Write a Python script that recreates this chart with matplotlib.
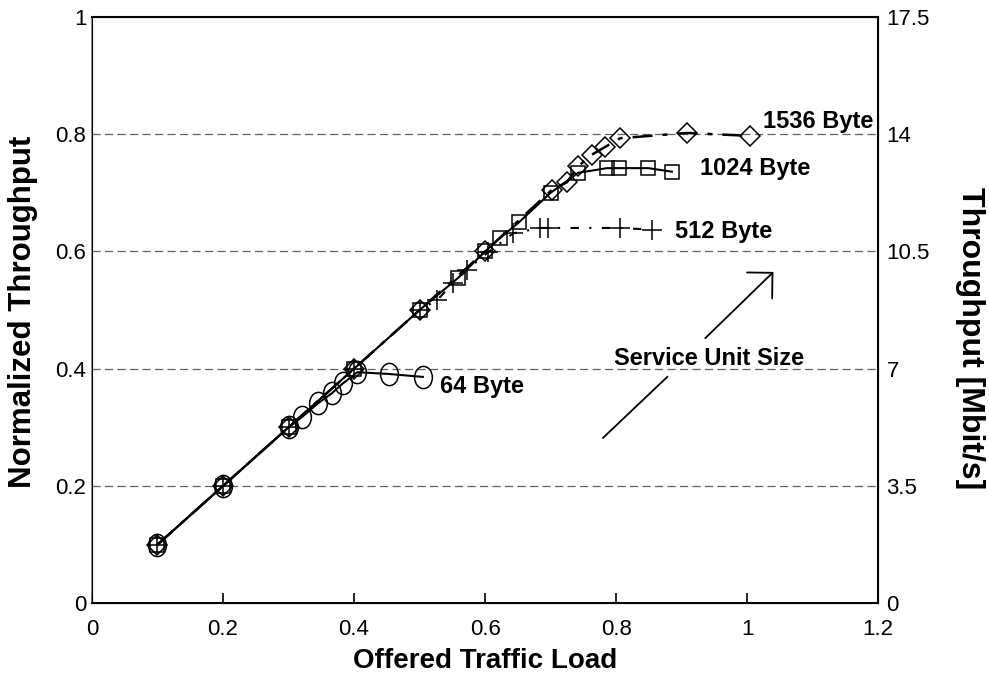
import matplotlib.pyplot as plt
from matplotlib.path import Path

plt.rcParams['font.family'] = ['Liberation Sans', 'DejaVu Sans']

# Messdaten (normierter Durchsatz)
x_64 = [0.1, 0.2, 0.3, 0.32, 0.345, 0.366, 0.383, 0.405, 0.453, 0.505]
y_64 = [0.1, 0.2, 0.3, 0.317, 0.341, 0.358, 0.375, 0.394, 0.391, 0.386]

x_512 = [0.1, 0.2, 0.3, 0.4, 0.5, 0.527, 0.551, 0.572, 0.605, 0.643, 0.684, 0.696, 0.806, 0.855]
y_512 = [0.1, 0.2, 0.3, 0.4, 0.5, 0.517, 0.546, 0.568, 0.599, 0.631, 0.64, 0.64, 0.64, 0.637]

x_1024 = [0.1, 0.2, 0.3, 0.4, 0.5, 0.559, 0.6, 0.623, 0.652, 0.7, 0.742, 0.786, 0.805, 0.849, 0.885]
y_1024 = [0.1, 0.2, 0.3, 0.4, 0.5, 0.555, 0.6, 0.623, 0.65, 0.7, 0.734, 0.742, 0.742, 0.742, 0.736]

x_1536 = [0.1, 0.2, 0.3, 0.4, 0.5, 0.6, 0.702, 0.725, 0.742, 0.763, 0.783, 0.806, 0.908, 1.005]
y_1536 = [0.1, 0.2, 0.3, 0.4, 0.5, 0.6, 0.705, 0.718, 0.745, 0.765, 0.778, 0.793, 0.802, 0.797]

x_ticks = [0, 0.2, 0.4, 0.6, 0.8, 1, 1.2]
x_ticklabels = ['0', '0.2', '0.4', '0.6', '0.8', '1', '1.2']
y_ticks = [0, 0.2, 0.4, 0.6, 0.8, 1]
y_ticklabels = ['0', '0.2', '0.4', '0.6', '0.8', '1']
y2_ticks = [0, 3.5, 7, 10.5, 14, 17.5]
y2_ticklabels = ['0', '3.5', '7', '10.5', '14', '17.5']

fig = plt.figure(figsize=(9.89, 6.74), dpi=100)
ax = fig.add_axes([0.093, 0.105, 0.795, 0.87])

# Gitterlinien
for yv in y_ticks[1:-1]:
    ax.axhline(yv, color='#606060', linestyle=(0, (6.5, 3.5)), linewidth=0.9, zorder=1)

# etwas hoeherer Kreis (Ellipse) wie im Original
circ = Path.unit_circle()
ellipse = Path(circ.vertices * [0.8, 1.0], circ.codes)

mk = dict(markerfacecolor='none', markeredgecolor='black', markeredgewidth=1.1, color='black')
ax.plot(x_1536, y_1536, linestyle=(0, (8, 4, 2, 4)), linewidth=1.8, marker='D', markersize=10.5, **mk)
ax.plot(x_1024, y_1024, linestyle='-', linewidth=1.5, marker='s', markersize=10, **mk)
ax.plot(x_512, y_512, linestyle=(0, (4, 5, 1, 5)), linewidth=1.5, marker='+', markersize=14, **mk)
ax.plot(x_64, y_64, linestyle='-', linewidth=1.5, marker=ellipse, markersize=16, **mk)

# Beschriftungen der Kurven
lab = dict(fontsize=17, fontweight='bold', va='baseline', ha='left')
ax.text(0.531, 0.358, '64 Byte', **lab)
ax.text(0.89, 0.623, '512 Byte', **lab)
ax.text(0.928, 0.730, '1024 Byte', **lab)
ax.text(1.024, 0.811, '1536 Byte', **lab)
ax.text(0.942, 0.406, 'Service Unit Size', fontsize=17, fontweight='bold', ha='center', va='baseline')

# Pfeil
ax.plot([0.780, 0.878], [0.282, 0.386], color='black', linewidth=1.3)
ax.annotate('', xy=(1.040, 0.565), xytext=(0.936, 0.452),
            arrowprops=dict(arrowstyle='->,head_length=1.3,head_width=1.3', mutation_scale=10,
                            color='black', linewidth=1.3, shrinkA=0, shrinkB=0))

ax.set_xlim(0, 1.2)
ax.set_ylim(0, 1)
ax.set_xticks(x_ticks)
ax.set_xticklabels(x_ticklabels, fontsize=16)
ax.set_yticks(y_ticks)
ax.set_yticklabels(y_ticklabels, fontsize=16)
ax.tick_params(axis='x', direction='in', length=7, width=1.2, pad=11)
ax.tick_params(axis='y', direction='in', length=0, pad=4)
ax.spines['left'].set_color('#808080')
ax.spines['left'].set_linewidth(1.2)
for s in ['top', 'bottom', 'right']:
    ax.spines[s].set_linewidth(1.5)

ax.set_xlabel('Offered Traffic Load', fontsize=20, fontweight='bold', labelpad=6)
ax.text(-0.0878, 0.497, 'Normalized Throughput', transform=ax.transAxes, rotation=90,
        fontsize=22.5, fontweight='bold', ha='center', va='center')

ax2 = ax.twinx()
ax2.set_ylim(0, 17.5)
ax2.set_yticks(y2_ticks)
ax2.set_yticklabels(y2_ticklabels, fontsize=16)
ax2.tick_params(axis='y', direction='in', length=0, pad=6)
ax2.text(1.117, 0.452, 'Throughput [Mbit/s]', transform=ax.transAxes, rotation=270,
         fontsize=23, fontweight='bold', ha='center', va='center')

plt.savefig('out.png', dpi=100)
